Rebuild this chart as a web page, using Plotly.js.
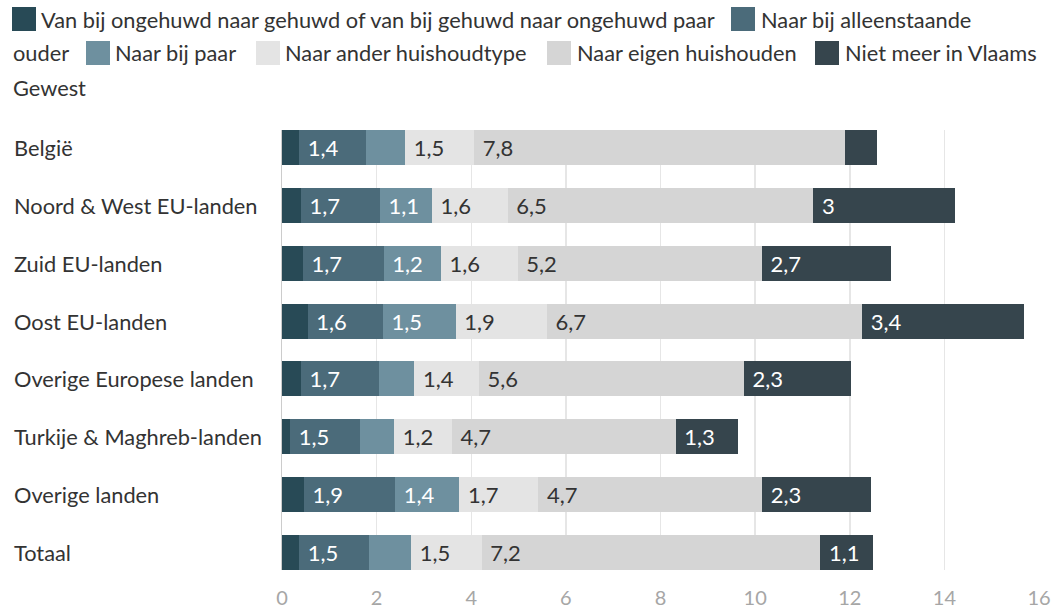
<!DOCTYPE html>
<html>
<head>
<meta charset="utf-8">
<script src="https://cdn.plot.ly/plotly-3.0.1.min.js"></script>
<style>html,body{margin:0;padding:0;background:#fff;}#chart{width:1054px;height:611px;}</style>
</head>
<body>
<div id="chart"></div>
<script>
// ---- data ----
const categories = ['België','Noord & West EU-landen','Zuid EU-landen','Oost EU-landen','Overige Europese landen','Turkije & Maghreb-landen','Overige landen','Totaal'];
const seriesNames = [
  'Van bij ongehuwd naar gehuwd of van bij gehuwd naar ongehuwd paar',
  'Naar bij alleenstaande ouder',
  'Naar bij paar',
  'Naar ander huishoudtype',
  'Naar eigen huishouden',
  'Niet meer in Vlaams Gewest'
];
const ongehuwdGehuwd   = [0.36, 0.40, 0.44, 0.54, 0.40, 0.17, 0.46, 0.36];
const alleenstaande    = [1.41, 1.67, 1.71, 1.59, 1.66, 1.48, 1.93, 1.48];
const bijPaar          = [0.83, 1.10, 1.21, 1.54, 0.74, 0.72, 1.36, 0.89];
const anderType        = [1.46, 1.60, 1.62, 1.93, 1.36, 1.22, 1.67, 1.49];
const eigenHuishouden  = [7.84, 6.46, 5.16, 6.66, 5.60, 4.73, 4.73, 7.16];
const nietMeerVlaams   = [0.68, 3.00, 2.74, 3.42, 2.26, 1.31, 2.30, 1.12];
const xTicks = [0, 2, 4, 6, 8, 10, 12, 14, 16];

// ---- styles ----
const colors = ['#284a56', '#4b6b7a', '#6e909f', '#e4e4e4', '#d5d5d5', '#36454d'];
const labelColors = ['#ffffff', '#ffffff', '#ffffff', '#333333', '#333333', '#ffffff'];
const FONT = 'Lato, "Open Sans", sans-serif';
const FS = 22;
const allSeries = [ongehuwdGehuwd, alleenstaande, bijPaar, anderType, eigenHuishouden, nietMeerVlaams];

function fmt(v){
  if (v < 1) return '';
  return '\u00a0' + v.toFixed(1).replace(/\.0$/, '').replace('.', ',');
}

const traces = allSeries.map((vals, i) => ({
  type: 'bar',
  orientation: 'h',
  name: seriesNames[i],
  y: categories,
  x: vals,
  marker: {color: colors[i], line: {width: 0}},
  text: vals.map(fmt),
  textposition: 'inside',
  insidetextanchor: 'start',
  constraintext: 'none',
  textfont: {family: FONT, size: FS, color: labelColors[i]},
  hoverinfo: 'x+name',
  cliponaxis: false
}));

// plot geometry (pixels)
const L = 282, R = 15, T = 130, B = 41, W = 1054, H = 611;
const pw = W - L - R, ph = H - T - B;
const px = p => (p - L) / pw;
const py = p => (H - B - p) / ph;

// custom legend (wrapping like the reference)
const legendSwatches = [
  {i: 0, x: 12, y: 19}, {i: 1, x: 731, y: 19},
  {i: 2, x: 86, y: 53}, {i: 3, x: 256, y: 53},
  {i: 4, x: 547, y: 53}, {i: 5, x: 815, y: 53}
];
const legendTexts = [
  {t: 'Van bij ongehuwd naar gehuwd of van bij gehuwd naar ongehuwd paar', x: 39, y: 19},
  {t: 'Naar bij alleenstaande', x: 759, y: 19},
  {t: 'ouder', x: 11, y: 53},
  {t: 'Naar bij paar', x: 113, y: 53},
  {t: 'Naar ander huishoudtype', x: 283, y: 53},
  {t: 'Naar eigen huishouden', x: 575, y: 53},
  {t: 'Niet meer in Vlaams', x: 843, y: 53},
  {t: 'Gewest', x: 11, y: 87}
];

const shapes = legendSwatches.map(s => ({
  type: 'rect', xref: 'paper', yref: 'paper',
  x0: px(s.x), x1: px(s.x + 24), y0: py(s.y + 12), y1: py(s.y - 12),
  fillcolor: colors[s.i], line: {width: 0}
}));

const annotations = legendTexts.map(o => ({
  xref: 'paper', yref: 'paper', x: px(o.x), y: py(o.y),
  xanchor: 'left', yanchor: 'middle', showarrow: false,
  text: o.t, font: {family: FONT, size: 21.8, color: '#333333'}
})).concat(categories.map(c => ({
  xref: 'paper', yref: 'y', x: px(12), y: c,
  xanchor: 'left', yanchor: 'middle', showarrow: false,
  text: c, font: {family: FONT, size: 21.8, color: '#333333'}
})));

const layout = {
  width: W, height: H,
  margin: {l: L, r: R, t: T, b: B, pad: 0},
  paper_bgcolor: '#ffffff', plot_bgcolor: '#ffffff',
  barmode: 'stack',
  bargap: 0.395,
  showlegend: false,
  font: {family: FONT, size: FS, color: '#333333'},
  xaxis: {
    range: [0, 16], tickvals: xTicks, ticktext: xTicks.map(String),
    showgrid: true, gridcolor: '#e6e6e6', gridwidth: 1.5,
    zeroline: false, showline: false, ticks: '',
    tickfont: {family: FONT, size: 20, color: '#a6a6a6'},
    ticklabelstandoff: 14, fixedrange: true
  },
  yaxis: {
    type: 'category', range: [7.3025, -0.3025],
    showticklabels: false, showgrid: false, zeroline: false,
    showline: true, linecolor: '#cccccc', linewidth: 1.5, ticks: '', fixedrange: true
  },
  shapes: shapes,
  annotations: annotations
};

Plotly.newPlot('chart', traces, layout, {displayModeBar: false, staticPlot: true});
</script>
</body>
</html>
